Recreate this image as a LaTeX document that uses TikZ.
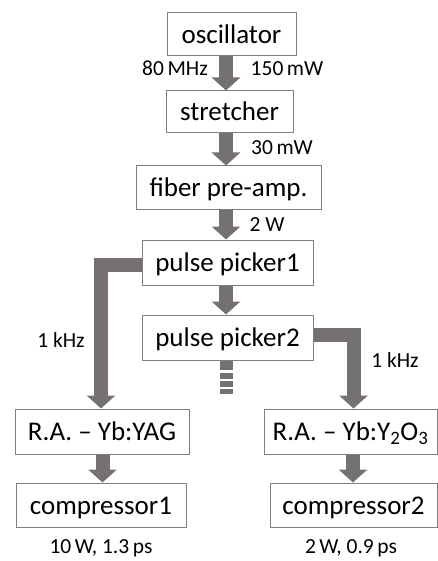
\documentclass[tikz,border=0pt]{standalone}
\usepackage{fontspec}
\setmainfont{Carlito}
\usetikzlibrary{arrows.meta}
\definecolor{arrgray}{HTML}{767171}
\definecolor{boxgray}{HTML}{7F7F7F}
\tikzset{
  stage/.style={draw=boxgray, line width=1pt, fill=white, inner sep=0pt,
    font=\fontsize{27}{32}\selectfont, text height=18pt, text depth=0pt},
  lbl/.style={inner sep=0pt, anchor=base, font=\fontsize{21.5}{26}\selectfont},
  bigarrow/.style={draw=arrgray, line width=14pt, line join=miter,
    -{Triangle[width=28pt,length=13pt]}},
}
\begin{document}
\begin{tikzpicture}[x=1pt,y=-1pt]
\useasboundingbox (0,0) rectangle (438,561);
\coordinate (ax) at (226,0);
\node[stage, minimum width=129pt, minimum height=43pt] (osc) at (231.5,34.5) {oscillator};
\node[stage, minimum width=127pt, minimum height=42pt] (str) at (229.5,112) {stretcher};
\node[stage, minimum width=185pt, minimum height=43pt] (fib) at (228.5,187.5) {fiber pre-amp.};
\node[stage, minimum width=171pt, minimum height=45pt] (pp1) at (227.5,262.5) {pulse picker1};
\node[stage, minimum width=171pt, minimum height=45pt] (pp2) at (227.5,337.5) {pulse picker2};
\node[stage, minimum width=174pt, minimum height=45pt] (ra1) at (102,431.5) {R.A. \textendash\ Yb:YAG};
\node[stage, minimum width=170pt, minimum height=44pt] (cp1) at (101,505) {compressor1};
\node[stage, minimum width=173pt, minimum height=45pt] (ra2) at (350.5,431.5) {R.A. \textendash\ Yb:Y\textsubscript{2}O\textsubscript{3}};
\node[stage, minimum width=167pt, minimum height=44pt] (cp2) at (353.5,505) {compressor2};

\draw[bigarrow] (osc.south -| ax) -- (str.north -| ax);
\draw[bigarrow] (str.south -| ax) -- (fib.north -| ax);
\draw[bigarrow] (fib.south -| ax) -- (pp1.north -| ax);
\draw[bigarrow] (pp1.south -| ax) -- (pp2.north -| ax);
\draw[bigarrow] ([yshift=-2.5pt]pp1.west) -| ([xshift=-1pt]ra1.north);
\draw[bigarrow] ([yshift=2.5pt]pp2.east) -| ([xshift=3pt]ra2.north);
\draw[bigarrow] ([xshift=0.5pt]ra1.south) -- ([xshift=1.5pt]cp1.north);
\draw[bigarrow] ([xshift=2.5pt]ra2.south) -- ([xshift=-0.5pt]cp2.north);

\fill[arrgray] (220,361) rectangle (233,370);
\fill[arrgray] (220,373) rectangle (233,379);
\fill[arrgray] (220,381) rectangle (233,387);
\fill[arrgray] (220,389) rectangle (233,394);

\node[lbl] (l1) at (175,76) {80\,MHz};
\node[lbl] (l2) at (287,76) {150\,mW};
\node[lbl] (l3) at (282,155) {30\,mW};
\node[lbl] (l4) at (267,231) {2 W};
\node[lbl] (l5) at (61,347) {1 kHz};
\node[lbl] (l6) at (395,367) {1 kHz};
\node[lbl] (l7) at (101,553) {10\,W, 1.3\,ps};
\node[lbl] (l8) at (351,553) {2\,W, 0.9\,ps};
\end{tikzpicture}
\end{document}
